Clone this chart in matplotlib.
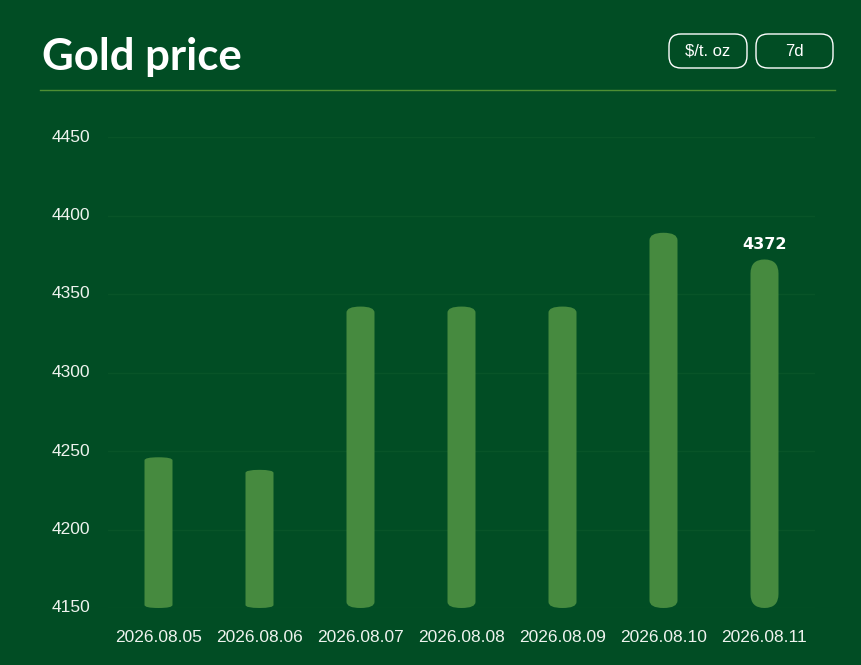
import matplotlib
matplotlib.use("Agg")
import matplotlib.pyplot as plt
from matplotlib.patches import FancyBboxPatch

dates = ["2026.08.05", "2026.08.06", "2026.08.07", "2026.08.08",
         "2026.08.09", "2026.08.10", "2026.08.11"]
prices = [4246, 4238, 4342, 4342, 4342, 4389, 4372]
yticks = [4150, 4200, 4250, 4300, 4350, 4400, 4450]
title = "Gold price"
unit_label = "$/t. oz"
range_label = "7d"
highlight_index = 6

BG = "#014d24"
BAR = "#468a3f"
GRID = "#085428"
HEAD_LINE = "#4e8f34"

W, H = 861, 665
fig = plt.figure(figsize=(W / 100, H / 100), dpi=100, facecolor=BG)

def px(x0, y0, x1, y1):
    return [x0 / W, 1 - y1 / H, (x1 - x0) / W, (y1 - y0) / H]

ax = fig.add_axes(px(108, 137, 815, 608))
ax.set_facecolor(BG)
ymin, ymax = 4150, 4450
ax.set_ylim(ymin, ymax)
ax.set_xlim(-0.5, len(dates) - 0.5)
for s in ax.spines.values():
    s.set_visible(False)
ax.set_yticks(yticks)
ax.set_yticklabels([])
ax.set_xticks(range(len(dates)))
ax.set_xticklabels([])
ax.tick_params(length=0)
for t in yticks:
    ax.axhline(t, color=GRID, lw=1, zorder=0)

# pixel scales
x_ppu = (815 - 108) / len(dates)
y_ppu = (608 - 137) / (ymax - ymin)
bar_w = 28 / x_ppu
r = bar_w / 2
for i, v in enumerate(prices):
    h = v - ymin
    ry_px = 14 if i == highlight_index else max(3, 0.02 * h * y_ppu)
    aspect = (ry_px / y_ppu) / r
    p = FancyBboxPatch((i - bar_w / 2, ymin), bar_w, h,
                       boxstyle=f"round,pad=0,rounding_size={r}",
                       mutation_aspect=aspect, facecolor=BAR,
                       edgecolor="none", clip_on=False, zorder=2)
    ax.add_patch(p)

ax.text(highlight_index, prices[highlight_index] + 5, str(prices[highlight_index]),
        ha="center", va="bottom", color="white", fontsize=11.5,
        fontweight="bold", family="DejaVu Sans", zorder=3)

# tick labels
for t in yticks:
    y = ax.transData.transform((0, t))[1]
    fig.text(52 / W, y / H, str(t), ha="left", va="center",
             color="#eef3ee", fontsize=12.5, family="Liberation Sans")
for i, d in enumerate(dates):
    x = ax.transData.transform((i, ymin))[0]
    fig.text(x / W, 1 - 638 / H, d, ha="center", va="center",
             color="#eef3ee", fontsize=12.5, family="Liberation Sans")

# header
fig.text(42 / W, 1 - 70 / H, title, ha="left", va="baseline", color="white",
         fontsize=31.5, fontweight="bold", family="Lato")
fig.add_artist(plt.Line2D([40 / W, 835 / W], [1 - 90 / H, 1 - 90 / H],
                          color=HEAD_LINE, lw=1))
for (x0, x1), lab in zip([(669, 747), (756, 833)], [unit_label, range_label]):
    b = FancyBboxPatch((x0 / W, 1 - 68 / H), (x1 - x0) / W, 34 / H,
                       boxstyle="round,pad=0,rounding_size=0.014",
                       mutation_aspect=W / H,
                       transform=fig.transFigure, facecolor="none",
                       edgecolor="white", lw=1)
    fig.add_artist(b)
    fig.text((x0 + x1) / 2 / W, 1 - 51 / H, lab, ha="center", va="center",
             color="white", fontsize=12, family="Liberation Sans")

fig.savefig("out.png", dpi=100, facecolor=BG)
